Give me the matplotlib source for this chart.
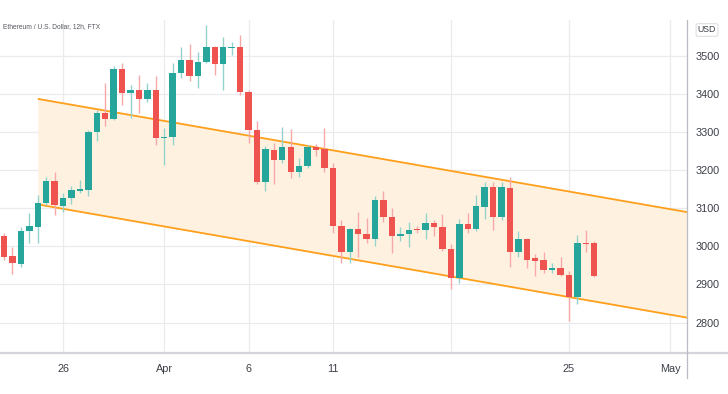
import matplotlib
matplotlib.use("Agg")
import matplotlib.pyplot as plt
import matplotlib.dates as mdates
from matplotlib.lines import Line2D
import pandas as pd
import numpy as np

# ---------------- data ----------------
start_time = "2022-03-22 12:00"
opens = [3026, 2975, 2954, 3041, 3052, 3115, 3172, 3106, 3128, 3146, 3148, 3299, 3350, 3334,
         3465, 3402, 3411, 3386, 3411, 3284, 3288, 3456, 3488, 3446, 3483, 3522, 3478, 3520,
         3523, 3406, 3306, 3170, 3253, 3227, 3260, 3194, 3211, 3260, 3255, 3205, 3054, 2984,
         3045, 3032, 3019, 3122, 3077, 3026, 3032, 3045, 3043, 3062, 3052, 2993, 2916, 3059,
         3045, 3104, 3157, 3078, 3154, 2986, 3019, 2969, 2963, 2937, 2944, 2925, 2867, 3010, 3008]
highs = [3036, 2998, 3052, 3087, 3135, 3183, 3196, 3140, 3159, 3173, 3306, 3358, 3428, 3474,
         3482, 3424, 3450, 3428, 3446, 3310, 3482, 3524, 3531, 3511, 3580, 3525, 3549, 3536,
         3555, 3410, 3328, 3262, 3271, 3313, 3308, 3231, 3266, 3269, 3310, 3218, 3070, 3048,
         3089, 3074, 3131, 3146, 3100, 3050, 3065, 3054, 3087, 3070, 3085, 3007, 3073, 3087,
         3135, 3170, 3170, 3170, 3183, 3039, 3021, 2980, 2984, 2957, 2973, 2934, 3030, 3043, 3013]
lows = [2965, 2927, 2945, 3008, 3008, 3109, 3083, 3091, 3111, 3141, 3131, 3277, 3316, 3332,
        3371, 3336, 3350, 3380, 3266, 3214, 3266, 3441, 3433, 3415, 3481, 3450, 3411, 3503,
        3398, 3271, 3164, 3146, 3164, 3218, 3179, 3183, 3205, 3237, 3196, 3035, 2956, 2957,
        2972, 3010, 3001, 3065, 2982, 3015, 2999, 3036, 3019, 3027, 2989, 2888, 2903, 3036,
        3039, 3071, 3043, 3070, 2947, 2973, 2943, 2921, 2931, 2930, 2921, 2803, 2849, 2984, 2919]
closes = [2973, 2956, 3041, 3054, 3115, 3172, 3109, 3126, 3148, 3150, 3299, 3350, 3334, 3465,
          3402, 3411, 3386, 3411, 3284, 3288, 3456, 3488, 3446, 3483, 3522, 3478, 3522, 3523,
          3406, 3306, 3170, 3255, 3227, 3260, 3194, 3211, 3260, 3253, 3205, 3054, 2984, 3045,
          3033, 3019, 3122, 3077, 3026, 3032, 3043, 3043, 3062, 3050, 2993, 2916, 3059, 3045,
          3106, 3157, 3078, 3155, 2986, 3019, 2964, 2962, 2938, 2943, 2925, 2867, 3010, 3006, 2922]

channel_dates = ["2022-03-24 12:00", "2022-05-02 12:00"]
channel_upper = [3387, 3086]
channel_lower = [3110, 2809]

price_ticks = [2800, 2900, 3000, 3100, 3200, 3300, 3400, 3500]
date_ticks = ["2022-03-26", "2022-04-01", "2022-04-06", "2022-04-11", "2022-04-18", "2022-04-25", "2022-05-01"]
date_labels = ["26", "Apr", "6", "11", "", "25", "May"]
title_text = "Ethereum / U.S. Dollar, 12h, FTX"

# ---------------- figure ----------------
W, H = 728, 394
fig = plt.figure(figsize=(W / 100, H / 100), dpi=100)
ax = fig.add_axes([0, 1 - 353 / H, 687 / W, (353 - 20) / H])

UP = "#26a69a"
DN = "#ef5350"
UP_W = "#93d3cc"
DN_W = "#f7a9a8"

times = pd.date_range(start_time, periods=len(opens), freq="12h")
x = mdates.date2num(times)
o = np.array(opens, float); h = np.array(highs, float)
l = np.array(lows, float); c = np.array(closes, float)
up = c >= o
body_w = 0.38

# channel
cx = mdates.date2num(pd.to_datetime(channel_dates))
ax.fill_between(cx, channel_lower, channel_upper, color="#fff1e0", zorder=1, linewidth=0)
ax.plot(cx, channel_upper, color="#ff9f1a", lw=1.3, zorder=2, solid_capstyle="butt")
ax.plot(cx, channel_lower, color="#ff9f1a", lw=1.3, zorder=2, solid_capstyle="butt")

# candles
ax.vlines(x[up], l[up], h[up], color=UP_W, lw=1.0, zorder=3)
ax.vlines(x[~up], l[~up], h[~up], color=DN_W, lw=1.0, zorder=3)
bot = np.minimum(o, c)
hgt = np.maximum(np.abs(c - o), 3)
ax.bar(x[up], hgt[up], bottom=bot[up], width=body_w, color=UP, linewidth=0, zorder=4)
ax.bar(x[~up], hgt[~up], bottom=bot[~up], width=body_w, color=DN, linewidth=0, zorder=4)

# axes ranges
x0 = mdates.date2num(pd.Timestamp("2022-03-26")) - 3.74
x1 = mdates.date2num(pd.Timestamp("2022-03-26")) + 37.0
ax.set_xlim(x0, x1)
ax.set_ylim(2720, 3594)

ax.set_yticks(price_ticks)
ax.set_xticks(mdates.date2num(pd.to_datetime(date_ticks)))
ax.set_xticklabels(date_labels)
ax.yaxis.tick_right()
ax.tick_params(axis="y", length=0, pad=6, labelsize=7.8, labelcolor="#3c3f48")
ax.tick_params(axis="x", length=0, pad=8, labelsize=7.8, labelcolor="#3c3f48")
for lab in ax.get_xticklabels() + ax.get_yticklabels():
    lab.set_fontfamily("Liberation Sans")
ax.grid(True, color="#eaebee", lw=0.9, zorder=0)
ax.set_axisbelow(True)
for s in ax.spines.values():
    s.set_visible(False)

# frame lines like TradingView
fig.add_artist(Line2D([0, 1], [1 - 353 / H] * 2, transform=fig.transFigure, color="#d3d5da", lw=1.6))
fig.add_artist(Line2D([687 / W] * 2, [1 - 20 / H, 1 - 378 / H], transform=fig.transFigure, color="#b9bcc4", lw=0.9))

fig.text(3 / W, 1 - 27 / H, title_text, fontsize=4.8, color="#555860", va="center", ha="left",
         family="Liberation Sans")
fig.text(707 / W, 1 - 30 / H, "USD", fontsize=6.3, color="#3c3f48", va="center", ha="center",
         family="Liberation Sans",
         bbox=dict(boxstyle="round,pad=0.2", fc="white", ec="#d3d5da", lw=0.6))

fig.savefig("out.png", dpi=100)
